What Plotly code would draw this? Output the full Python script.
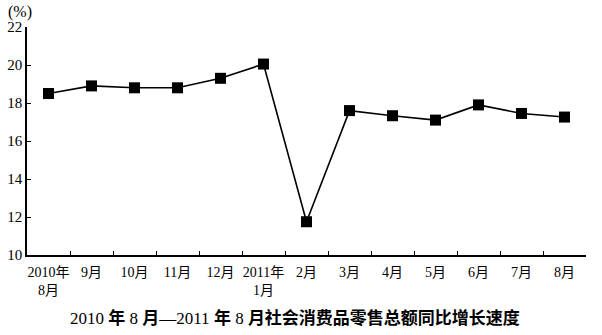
import plotly.graph_objects as go

categories = ["2010年<br>8月", "9月", "10月", "11月", "12月", "2011年<br>1月",
              "2月", "3月", "4月", "5月", "6月", "7月", "8月"]
growth = [18.5, 18.9, 18.8, 18.8, 19.3, 20.05, 11.75, 17.6, 17.33, 17.1, 17.9, 17.45, 17.26]
y_ticks = [10, 12, 14, 16, 18, 20, 22]
caption = "2010 <b>年</b> 8 <b>月</b>—2011 <b>年</b> 8 <b>月社会消费品零售总额同比增长速度</b>"

SERIF = "Liberation Serif, Noto Sans CJK SC"

fig = go.Figure(go.Scatter(
    x=categories, y=growth, mode="lines+markers",
    line=dict(color="black", width=1.6),
    marker=dict(symbol="square", size=11, color="black"),
))

fig.update_layout(
    width=602, height=335,
    margin=dict(l=27, r=16, t=27, b=80),
    paper_bgcolor="white", plot_bgcolor="white",
    showlegend=False,
    font=dict(family=SERIF, size=14, color="black"),
    xaxis=dict(
        type="category", range=[-0.5, 12.5], automargin=False, tickangle=0,
        tickson="boundaries", ticks="inside", ticklen=4, tickcolor="black", tickwidth=1,
        showline=True, linecolor="black", linewidth=1.5,
        showgrid=False, zeroline=False,
        tickfont=dict(family=SERIF, size=14),
        ticklabelstandoff=3,
    ),
    yaxis=dict(
        range=[10, 22], tickvals=y_ticks, automargin=False,
        ticks="inside", ticklen=4, tickcolor="black", tickwidth=1,
        showline=True, linecolor="black", linewidth=1.5,
        showgrid=False, zeroline=False,
        tickfont=dict(family=SERIF, size=15),
        ticklabelstandoff=0,
    ),
    annotations=[
        dict(text="(%)", xref="paper", yref="paper", x=-0.038, y=1.0, yshift=4,
             xanchor="left", yanchor="bottom", showarrow=False,
             font=dict(family=SERIF, size=16)),
        dict(text=caption, xref="paper", yref="paper", x=0.48, y=0, yshift=-63,
             xanchor="center", yanchor="middle", showarrow=False,
             font=dict(family="Liberation Serif, Noto Sans CJK SC", size=17)),
    ],
)

fig.write_html("out.html")
